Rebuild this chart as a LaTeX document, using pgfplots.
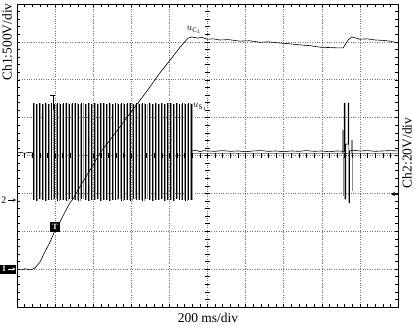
\documentclass[border=0pt]{standalone}
\usepackage{pgfplots}
\pgfplotsset{compat=1.18}
\usepackage{pgfplotstable}
\usetikzlibrary{calc,arrows.meta}
\usepackage{fontspec}
\setmainfont{Liberation Serif}

\pgfplotstableread{
x xg top bot
0.42 0.46 1.38 -1.17
0.50 0.54 1.36 -1.19
0.58 0.62 1.39 -1.16
0.66 0.70 1.37 -1.18
0.74 0.78 1.38 -1.20
0.82 0.86 1.35 -1.17
0.90 0.94 1.39 -1.18
0.98 1.02 1.37 -1.16
1.06 1.10 1.38 -1.19
1.14 1.18 1.36 -1.17
1.22 1.26 1.39 -1.18
1.30 1.34 1.38 -1.20
1.38 1.42 1.36 -1.16
1.46 1.50 1.38 -1.18
1.54 1.58 1.39 -1.17
1.62 1.66 1.37 -1.19
1.70 1.74 1.38 -1.16
1.78 1.82 1.36 -1.18
1.86 1.90 1.39 -1.20
1.94 1.98 1.37 -1.17
2.02 2.06 1.38 -1.18
2.10 2.14 1.36 -1.16
2.18 2.22 1.39 -1.19
2.26 2.30 1.38 -1.17
2.34 2.38 1.37 -1.18
2.42 2.46 1.38 -1.20
2.50 2.54 1.36 -1.17
2.58 2.62 1.39 -1.18
2.66 2.70 1.37 -1.16
2.74 2.78 1.38 -1.19
2.82 2.86 1.36 -1.17
2.90 2.94 1.39 -1.18
2.98 3.02 1.38 -1.20
3.06 3.10 1.37 -1.16
3.14 3.18 1.38 -1.18
3.22 3.26 1.36 -1.17
3.30 3.34 1.39 -1.19
3.38 3.42 1.37 -1.16
3.46 3.50 1.38 -1.18
3.54 3.58 1.36 -1.20
3.62 3.66 1.39 -1.17
3.70 3.74 1.37 -1.18
3.78 3.82 1.38 -1.16
3.86 3.90 1.36 -1.19
3.94 3.98 1.39 -1.17
4.02 4.06 1.38 -1.18
4.10 4.14 1.37 -1.20
4.18 4.22 1.38 -1.16
4.26 4.30 1.36 -1.18
4.34 4.38 1.39 -1.17
4.42 4.46 1.37 -1.19
4.50 4.54 1.38 -1.17
4.58 4.60 1.36 -1.18
}\bursttable

\begin{document}
\begin{tikzpicture}
\begin{axis}[name=ax, scale only axis,
  width=381pt, height=303pt,
  xmin=0, xmax=10, ymin=-4, ymax=4,
  xtick={0,...,10}, ytick={-4,...,4},
  minor x tick num=4, minor y tick num=4,
  xticklabels={}, yticklabels={},
  tick align=inside, major tick length=3pt, minor tick length=3pt,
  tick style={black, line width=0.5pt},
  grid=major, major grid style={black!55, dotted, line width=0.6pt},
  axis line style={line width=0.9pt}]
% u_S1 burst (gray and black traces)
\addplot[ycomb, black!40, line width=0.6pt, mark=none] table[x=xg, y=top] {\bursttable};
\addplot[ycomb, black!40, line width=0.6pt, mark=none] table[x=xg, y=bot] {\bursttable};
\addplot[ycomb, black, line width=0.6pt, mark=none] table[x=x, y=top] {\bursttable};
\addplot[ycomb, black, line width=0.6pt, mark=none] table[x=x, y=bot] {\bursttable};
% u_S1 baseline before burst
\addplot[black, line width=0.6pt, mark=none] coordinates {(0,0.07) (0.1,0.08) (0.2,0.06) (0.3,0.08) (0.42,0.07)};
% u_S1 gray trace after burst
\addplot[black!45, line width=0.6pt, mark=none] coordinates {
(4.60,0.05) (8.55,0.05) (8.55,0.67) (8.56,0.67) (8.56,-1.04) (8.57,-1.04) (8.57,0.05)
(8.78,0.05) (8.78,0.41) (8.79,0.41) (8.79,-0.91) (8.80,-0.91) (8.80,0.05) (10,0.05)};
% u_S1 black trace after burst
\addplot[black, line width=0.6pt, mark=none] coordinates {
(4.60,0.12) (4.70,0.14) (4.80,0.10) (4.90,0.13) (5.00,0.12) (5.20,0.11) (5.40,0.13)
(5.60,0.11) (5.80,0.12) (6.00,0.10) (6.20,0.12) (6.40,0.13) (6.60,0.11) (6.80,0.12)
(7.00,0.10) (7.20,0.12) (7.40,0.11) (7.60,0.13) (7.80,0.11) (8.00,0.12) (8.20,0.10)
(8.40,0.12) (8.58,0.11)
(8.59,0.11) (8.59,1.38) (8.61,1.38) (8.61,-1.15) (8.63,-1.15) (8.63,0.30)
(8.69,0.30) (8.69,1.38) (8.71,1.38) (8.71,-1.25) (8.73,-1.25) (8.73,0.12)
(8.80,0.14) (9.00,0.12) (9.20,0.13) (9.40,0.11) (9.60,0.12) (9.80,0.13) (10,0.12)};
% u_C1
\addplot[black, line width=0.6pt, mark=none] coordinates {
(0,-2.99) (0.06,-3.01) (0.13,-3.02) (0.20,-2.99) (0.29,-3.01) (0.37,-3.02)
(0.47,-2.97) (0.60,-2.82) (0.73,-2.55) (0.87,-2.28) (1.00,-1.97) (1.13,-1.75)
(1.26,-1.49) (1.39,-1.25) (1.47,-1.15) (1.65,-0.83) (1.92,-0.38) (2.18,0.07)
(2.44,0.41) (2.70,0.75) (2.97,1.12) (3.23,1.46) (3.49,1.81) (3.75,2.18)
(4.02,2.52) (4.28,2.86) (4.49,3.10) (4.59,3.13) (4.75,3.10) (4.85,3.12)
(4.99,3.07) (5.15,3.08) (5.33,3.05) (5.55,3.06) (5.85,3.02) (6.10,3.03)
(6.38,2.99) (6.60,3.00) (6.90,2.97) (7.15,2.95) (7.43,2.92) (7.70,2.90)
(7.95,2.86) (8.20,2.85) (8.48,2.84) (8.56,2.84) (8.69,3.05) (8.79,3.13)
(9.00,3.07) (9.20,3.08) (9.40,3.05) (9.60,3.04) (9.79,3.02) (10,2.97)};
\end{axis}
\begin{scope}[shift={($(ax.south west)+(-17pt,-18pt)$)}, x=1pt, y=1pt]
% centre graticule ticks
\foreach \i in {1,...,39} \draw[line width=0.5pt] (205,{18+\i*7.575}) -- (210,{18+\i*7.575});
\foreach \i in {1,...,49} \draw[line width=0.5pt] ({17+\i*7.62},167) -- ({17+\i*7.62},172);
% trigger markers
\draw[line width=0.7pt] (53,230) -- (53,215);
\draw[line width=0.7pt] (50.5,230) -- (55.5,230);
\fill[black] (50,93) rectangle (60,103);
\node[text=white, inner sep=0pt, font=\fontsize{8}{8}\selectfont\bfseries] at (55,98) {T};
% channel markers
\fill[black] (0,51.5) rectangle (16.5,60.5);
\node[text=white, inner sep=0pt, font=\fontsize{8.5}{8.5}\selectfont\bfseries] at (4,56) {1};
\draw[white, line width=0.7pt, -{Stealth[length=3pt,width=3pt]}] (8,56) -- (15.5,56);
\node[inner sep=0pt, font=\fontsize{10}{10}\selectfont] at (4,125) {2};
\draw[line width=0.6pt, -{Stealth[length=3pt,width=3pt]}] (8,125) -- (16,125);
\draw[line width=0.6pt, -{Stealth[length=4pt,width=4pt]}] (398,131) -- (391,131);
% labels
\node[inner sep=0pt, font=\fontsize{10}{10}\selectfont] at (194,295) {$u_{\mathrm{C}_1}$};
\node[inner sep=0pt, font=\fontsize{10}{10}\selectfont] at (200,218) {$u_{\mathrm{S}_1}$};
\node[rotate=90, inner sep=0pt, font=\fontsize{13.5}{14}\selectfont] at (7,283) {Ch1:500V/div};
\node[rotate=90, inner sep=0pt, font=\fontsize{13.5}{14}\selectfont] at (407,172) {Ch2:20V/div};
\node[inner sep=0pt, font=\fontsize{13.5}{14}\selectfont] at (208,7) {200 ms/div};
\pgfresetboundingbox
\path[use as bounding box] (0,0) rectangle (415,325);
\end{scope}
\end{tikzpicture}
\end{document}
